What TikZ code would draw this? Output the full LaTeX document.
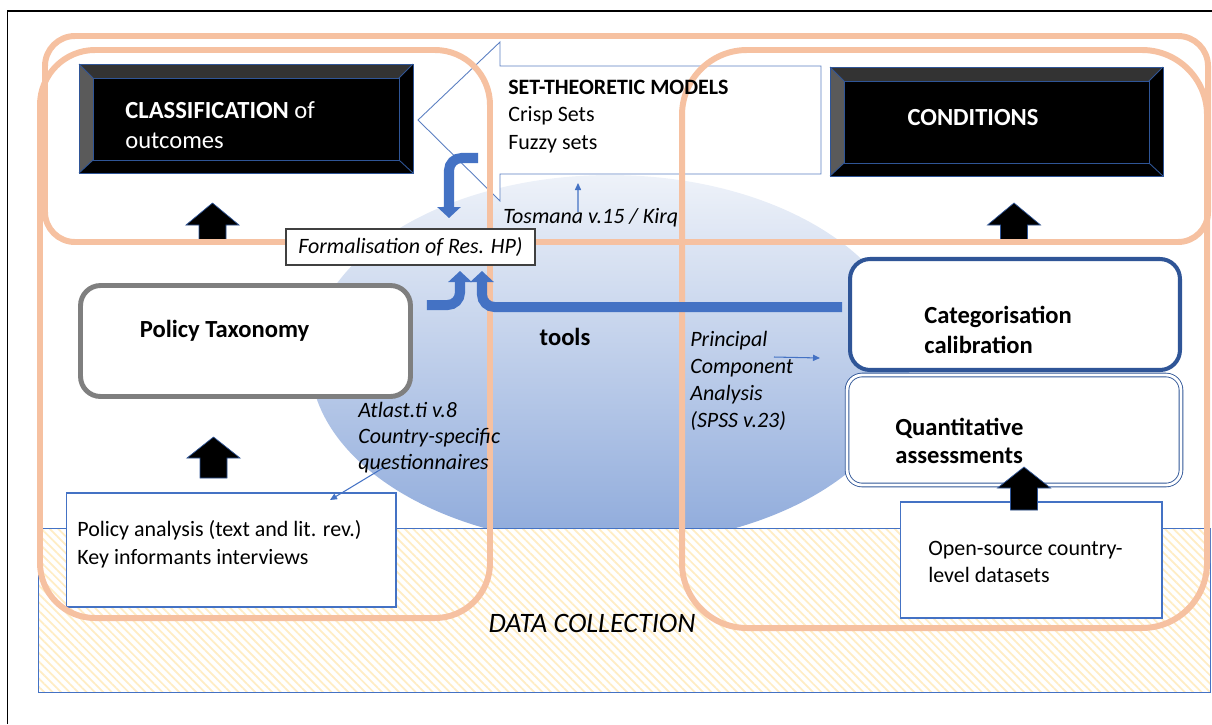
\documentclass[tikz,border=0pt]{standalone}
\usepackage{fontspec}
\setmainfont{Carlito}
\usetikzlibrary{arrows.meta,patterns.meta,shapes.geometric,positioning}

\definecolor{salmon}{HTML}{F6C1A1}
\definecolor{pptblue}{HTML}{4472C4}
\definecolor{navy}{HTML}{2F5597}
\definecolor{calloutblue}{HTML}{5B7FC2}
\definecolor{hatchy}{HTML}{FFEDC4}
\definecolor{elltop}{HTML}{EEF2F9}
\definecolor{ellbot}{HTML}{8EAADB}
\definecolor{bevtop}{HTML}{333333}
\definecolor{bevleft}{HTML}{5A5A5A}
\definecolor{taxogray}{HTML}{7F7F7F}
\definecolor{boxgray}{HTML}{404040}

% bevel of the two black title boxes
\newcommand{\drawbevel}[1]{%
  \fill[bevtop] (#1.north west) -- (#1.north east) -- ([shift={(-0.28cm,-0.28cm)}]#1.north east) -- ([shift={(0.28cm,-0.28cm)}]#1.north west) -- cycle;
  \fill[bevleft] (#1.north west) -- ([shift={(0.28cm,-0.28cm)}]#1.north west) -- ([shift={(0.28cm,0.26cm)}]#1.south west) -- (#1.south west) -- cycle;
  \draw[navy, line width=0.5pt] ([shift={(0.28cm,-0.28cm)}]#1.north west) rectangle ([shift={(-0.28cm,0.26cm)}]#1.south east);
  \draw[navy, line width=0.5pt] (#1.north west) -- ([shift={(0.28cm,-0.28cm)}]#1.north west)
    (#1.north east) -- ([shift={(-0.28cm,-0.28cm)}]#1.north east)
    (#1.south west) -- ([shift={(0.28cm,0.26cm)}]#1.south west)
    (#1.south east) -- ([shift={(-0.28cm,0.26cm)}]#1.south east);
  \draw[navy, line width=0.5pt] (#1.north west) rectangle (#1.south east);}

\begin{document}
\begin{tikzpicture}[x=0.02cm, y=-0.02cm,
  group/.style={draw=salmon, line width=3.4pt},
  bevelbox/.style={draw=navy, fill=black, line width=0.5pt, inner sep=0pt, outer sep=0pt},
  srcbox/.style={draw=pptblue, fill=white, line width=0.6pt, inner sep=0pt, outer sep=0pt},
  roundbox/.style={fill=white, inner sep=0pt, outer sep=0pt},
  datarect/.style={draw=pptblue, line width=0.5pt, preaction={fill=white}, pattern={Lines[angle=-45,distance=3.4pt,line width=1pt]}, pattern color=hatchy, inner sep=0pt, outer sep=0pt},
  fat/.style={draw=pptblue, line width=5.7pt, rounded corners=0.25cm, -{Triangle[width=0.46cm,length=0.22cm]}},
  pointer/.style={draw=pptblue, line width=0.6pt, -{Triangle[width=3.5pt,length=4pt]}},
  txt/.style={inner sep=0pt, align=left, font=\fontsize{12.5}{15.8}\selectfont},
  itx/.style={inner sep=0pt, align=left, font=\itshape\fontsize{12.5}{15.4}\selectfont},
  hd/.style={inner sep=0pt, align=left, font=\bfseries\fontsize{14}{17}\selectfont}]
\useasboundingbox (0,0) rectangle (1212,724);
\draw[line width=1.1pt] (7.5,724) -- (7.5,11) -- (1212,11);

% tools area and data collection band
\node[ellipse, minimum width=12cm, minimum height=7.4cm, top color=elltop, bottom color=ellbot, draw=none] (toolsarea) at (610,360) {};
\node[datarect, minimum width=23.46cm, minimum height=3.28cm] (datacol) at (624.5,610) {};
\node[srcbox, minimum width=6.6cm, minimum height=2.28cm] (polan) at (231,550) {};
\node[srcbox, minimum width=5.24cm, minimum height=2.32cm] (opensrc) at (1031,560) {};

% set-theoretic callout
\draw[calloutblue, fill=white, line width=0.5pt] (500,66) -- (821,66) -- (821,174) -- (500,174) -- (500,201) -- (418,120) -- (500,42) -- cycle;
\coordinate (calloutbase) at (578,183);
\coordinate (bendstart) at (478,158);

% title boxes
\node[bevelbox, minimum width=6.68cm, minimum height=2.18cm] (classif) at (246,118.5) {};
\node[bevelbox, minimum width=6.66cm, minimum height=2.18cm] (cond) at (996.5,121.5) {};
\drawbevel{classif}
\drawbevel{cond}

% step boxes
\node[roundbox, draw=taxogray, line width=2.8pt, rounded corners=0.4cm, minimum width=6.6cm, minimum height=2.22cm] (taxo) at (245.5,341) {};
\node[roundbox, draw=navy, line width=0.5pt, double=white, double distance=1.6pt, rounded corners=0.3cm, minimum width=6.68cm, minimum height=2.2cm] (quant) at (1014,430) {};
\node[roundbox, draw=navy, line width=2.3pt, rounded corners=0.4cm, minimum width=6.6cm, minimum height=2.22cm] (catcal) at (1015,314.5) {};

% black block arrows
\foreach \cx/\tip/\base/\bot in {212.5/203/225/240, 1014/203/225/240, 213.5/437/458/478, 1024/467/488/510}
  \filldraw[fill=black, draw=navy, line width=0.4pt] (\cx,\tip) -- (\cx+26.5,\base) -- (\cx+13.5,\base) -- (\cx+13.5,\bot) -- (\cx-13.5,\bot) -- (\cx-13.5,\base) -- (\cx-26.5,\base) -- cycle;

% groups
\draw[group, rounded corners=0.6cm] (45,36) rectangle (1208,242);
\draw[group, rounded corners=1.1cm] (40,50) rectangle (490,618);
\draw[group, rounded corners=1.3cm] (682,50) rectangle (1207,628);

\node[draw=boxgray, fill=white, line width=0.7pt, inner sep=0pt, outer sep=0pt, minimum width=4.98cm, minimum height=0.72cm, font=\itshape\fontsize{12.5}{15}\selectfont] (formal) at (410.5,247) {Formalisation of Res. HP)};

% blue arrows
\draw[fat] (bendstart) -| ([xshift=0.77cm,yshift=0.22cm]formal.north);
\draw[fat] ([xshift=0.33cm,yshift=0.72cm]taxo.east) -| ([xshift=0.99cm,yshift=-0.12cm]formal.south);
\draw[fat] ([xshift=-0.16cm,yshift=0.15cm]catcal.west) -| ([xshift=1.43cm,yshift=-0.12cm]formal.south);

% labels
\node[txt, text=white, anchor=west, font=\fontsize{14}{17}\selectfont] (classiflbl) at (125,125) {\textbf{CLASSIFICATION} of\\outcomes};
\node[hd, text=white] (condlbl) at (973,118) {CONDITIONS};
\node[txt, anchor=west, font=\fontsize{12.5}{15.6}\selectfont] (setmod) at (508,116.5) {\textbf{SET-THEORETIC MODELS}\\Crisp Sets\\Fuzzy sets};
\node[hd] (taxolbl) at (224.5,331) {Policy Taxonomy};
\node[hd, anchor=west] (catlbl) at (924,330) {Categorisation\\calibration};
\node[hd, anchor=west, font=\bfseries\fontsize{14}{15.9}\selectfont] (quantlbl) at (895,441) {Quantitative\\assessments};
\node[hd] (tools) at (565,337) {tools};
\node[itx, anchor=west] (pca) at (690,381) {Principal\\Component\\Analysis\\(SPSS v.23)};
\node[itx, anchor=west, font=\itshape\fontsize{12.5}{15}\selectfont] (atlas) at (358,437.5) {Atlast.ti v.8\\Country-specific\\questionnaires};
\node[itx, anchor=west] (tosmana) at (503,218) {Tosmana v.15 / Kirq};
\node[txt, anchor=west] (polanlbl) at (77,544) {Policy analysis (text and lit. rev.)\\Key informants interviews};
\node[txt, anchor=west, font=\fontsize{12.5}{15.3}\selectfont] (openlbl) at (928,561.5) {Open-source country-\\level datasets};
\node[font=\itshape\fontsize{16}{19}\selectfont, inner sep=0pt] (datalbl) at (592,623) {DATA COLLECTION};

% small pointers
\draw[pointer] ([shift={(1.5cm,0.12cm)}]tosmana.west) -- (calloutbase);
\draw[pointer] ([shift={(1.68cm,0.48cm)}]pca.west) -- ([shift={(-0.6cm,-0.87cm)}]catcal.west);
\draw[pointer] ([shift={(0.5cm,-0.61cm)}]atlas.west) -- ([shift={(1.98cm,-0.14cm)}]polan.north);
\end{tikzpicture}
\end{document}
